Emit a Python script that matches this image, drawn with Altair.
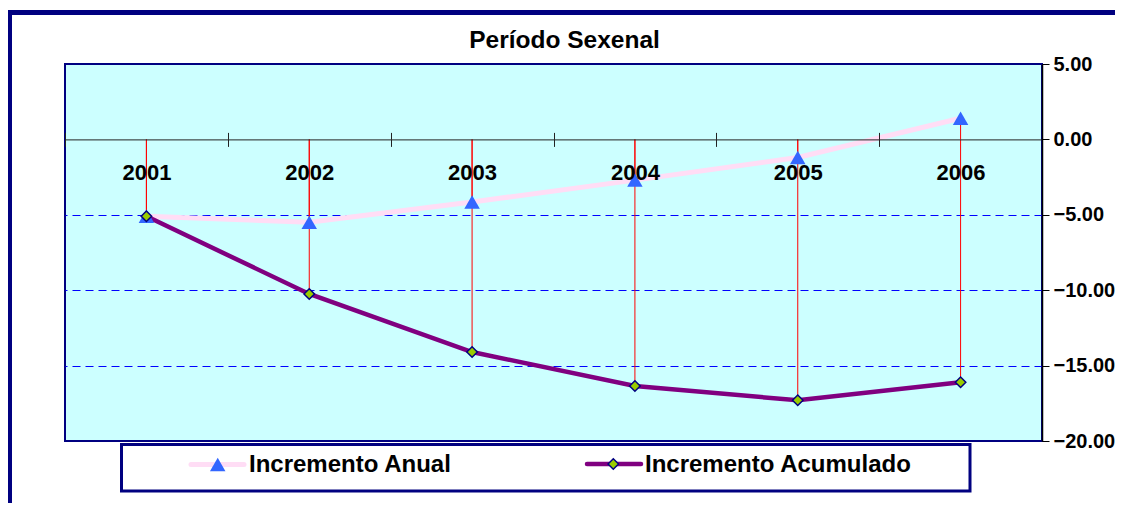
import altair as alt
import pandas as pd

# ---- data ----
years = ["2001", "2002", "2003", "2004", "2005", "2006"]
anual = [-5.10, -5.50, -4.15, -2.70, -1.20, 1.40]
acumulado = [-5.10, -10.25, -14.10, -16.35, -17.30, -16.10]
series = ["Incremento Anual", "Incremento Acumulado"]
y_ticks = [5, 0, -5, -10, -15, -20]
grid_ticks = [-5, -10, -15]
title_text = "Período Sexenal"

YMIN, YMAX = -20, 5
W, H = 977, 377
FONT = "Arial, Liberation Sans, sans-serif"
PINK = "#FFDDF5"
PURPLE = "#800080"
NAVY = "#000080"

df_an = pd.DataFrame({"year": years, "value": anual, "serie": series[0]})
df_ac = pd.DataFrame({"year": years, "value": acumulado, "serie": series[1]})
df_long = pd.concat([df_an, df_ac], ignore_index=True)
df_title = pd.DataFrame({"t": [title_text]})
df_leg = pd.DataFrame({"serie": series})

zero_px = H * YMAX / (YMAX - YMIN)

x_scale = alt.Scale(paddingInner=0, paddingOuter=0)
y_scale = alt.Scale(domain=[YMIN, YMAX], nice=False, zero=False)

y_axis_main = alt.Axis(orient="right", values=y_ticks, format=".2f", title=None,
                       labelFont=FONT, labelFontSize=20, labelFontWeight="bold",
                       labelColor="black", labelAlign="left", labelBaseline="middle",
                       labelPadding=4, tickSize=7, tickColor="black",
                       domainColor="black", domainWidth=1.5, grid=False, zindex=1)
y_axis_grid = alt.Axis(orient="right", values=grid_ticks, title=None, labels=False,
                       ticks=False, domain=False, grid=True, gridColor="#0000FF",
                       gridDash=[8, 5], gridWidth=1, zindex=0)

x_axis_bottom = alt.Axis(orient="bottom", offset=-(H - zero_px), title=None,
                         labelFont=FONT, labelFontSize=22, labelFontWeight="bold",
                         labelColor="black", labelAngle=0, labelBaseline="middle",
                         labelPadding=26, tickSize=7, tickColor="#222222",
                         tickBand="extent", domainColor="#222222", domainWidth=1,
                         grid=False, zindex=1)
x_axis_top = alt.Axis(orient="top", offset=-zero_px, title=None, labels=False,
                      domain=False, tickSize=7, tickColor="#222222",
                      tickBand="extent", grid=False, zindex=1)

base = alt.Chart(df_long)

drop = base.transform_calculate(zero="0").mark_rule(color="#FF0000", strokeWidth=1).encode(
    x=alt.X("year:N", scale=x_scale, axis=x_axis_bottom),
    y=alt.Y("value:Q", scale=y_scale, axis=y_axis_grid),
    y2="zero:Q",
)

line_an = alt.Chart(df_an).mark_line(color=PINK, strokeWidth=5).encode(
    x=alt.X("year:N", scale=x_scale, axis=x_axis_top),
    y=alt.Y("value:Q", scale=y_scale, axis=y_axis_main),
)
line_ac = alt.Chart(df_ac).mark_line(color=PURPLE, strokeWidth=4.5).encode(
    x=alt.X("year:N", scale=x_scale, axis=None),
    y=alt.Y("value:Q", scale=y_scale, axis=None),
)
pts_an = alt.Chart(df_an).mark_point(shape="triangle-up", filled=True, fill="#3366FF",
                                     opacity=1, size=240).encode(
    x=alt.X("year:N", scale=x_scale, axis=None),
    y=alt.Y("value:Q", scale=y_scale, axis=None),
)
pts_ac = alt.Chart(df_ac).mark_point(shape="diamond", filled=True, fill="#99CC00",
                                     stroke=NAVY, strokeWidth=1.5, opacity=1,
                                     size=110).encode(
    x=alt.X("year:N", scale=x_scale, axis=None),
    y=alt.Y("value:Q", scale=y_scale, axis=None),
)

# ---- title ----
title = alt.Chart(df_title).mark_text(font=FONT, fontSize=24.5, fontWeight="bold",
                                      color="black", align="center",
                                      baseline="alphabetic").encode(
    text="t:N", x=alt.value(499.5), y=alt.value(-16.5))

# ---- outer frame ----
frame_left = alt.Chart(df_title).mark_rule(color=NAVY, strokeWidth=5).encode(
    x=alt.value(-55.5), y=alt.value(-54), y2=alt.value(460))
frame_top = alt.Chart(df_title).mark_rule(color=NAVY, strokeWidth=5).encode(
    x=alt.value(-58), x2=alt.value(1060), y=alt.value(-51.5))

# ---- legend (manual, Excel-like) ----
leg_box = alt.Chart(df_title).mark_rect(fill="white", stroke=NAVY, strokeWidth=3).encode(
    x=alt.value(56.5), x2=alt.value(905), y=alt.value(380.5), y2=alt.value(427))
leg_an_line = alt.Chart(df_title).mark_rule(color=PINK, strokeWidth=5, strokeCap="round").encode(
    x=alt.value(126), x2=alt.value(179), y=alt.value(400.5))
leg_an_sym = alt.Chart(df_title).mark_point(shape="triangle-up", filled=True, fill="#3366FF",
                                            opacity=1, size=240).encode(
    x=alt.value(152.7), y=alt.value(400.5))
leg_an_txt = alt.Chart(df_leg).transform_filter(alt.datum.serie == series[0]).mark_text(
    font=FONT, fontSize=24, fontWeight="bold", color="black", align="left",
    baseline="alphabetic").encode(text="serie:N", x=alt.value(184), y=alt.value(408))
leg_ac_line = alt.Chart(df_title).mark_rule(color=PURPLE, strokeWidth=4.5, strokeCap="round").encode(
    x=alt.value(522), x2=alt.value(576), y=alt.value(400))
leg_ac_sym = alt.Chart(df_title).mark_point(shape="diamond", filled=True, fill="#99CC00",
                                            stroke=NAVY, strokeWidth=1.5, opacity=1,
                                            size=110).encode(
    x=alt.value(548.3), y=alt.value(400))
leg_ac_txt = alt.Chart(df_leg).transform_filter(alt.datum.serie == series[1]).mark_text(
    font=FONT, fontSize=24, fontWeight="bold", color="black", align="left",
    baseline="alphabetic").encode(text="serie:N", x=alt.value(580), y=alt.value(408))

chart = alt.layer(
    drop, line_an, line_ac, pts_an, pts_ac,
    title, frame_left, frame_top,
    leg_box, leg_an_line, leg_an_sym, leg_an_txt, leg_ac_line, leg_ac_sym, leg_ac_txt,
).resolve_axis(x="independent", y="independent").properties(
    width=W, height=H,
    autosize=alt.AutoSizeParams(type="none"),
    padding={"left": 57, "top": 56, "right": 73, "bottom": 62},
    background="white",
).configure_view(fill="#CCFFFF", stroke=NAVY, strokeWidth=2)

chart.save("out.html", embed_options={"renderer": "svg", "actions": False})
